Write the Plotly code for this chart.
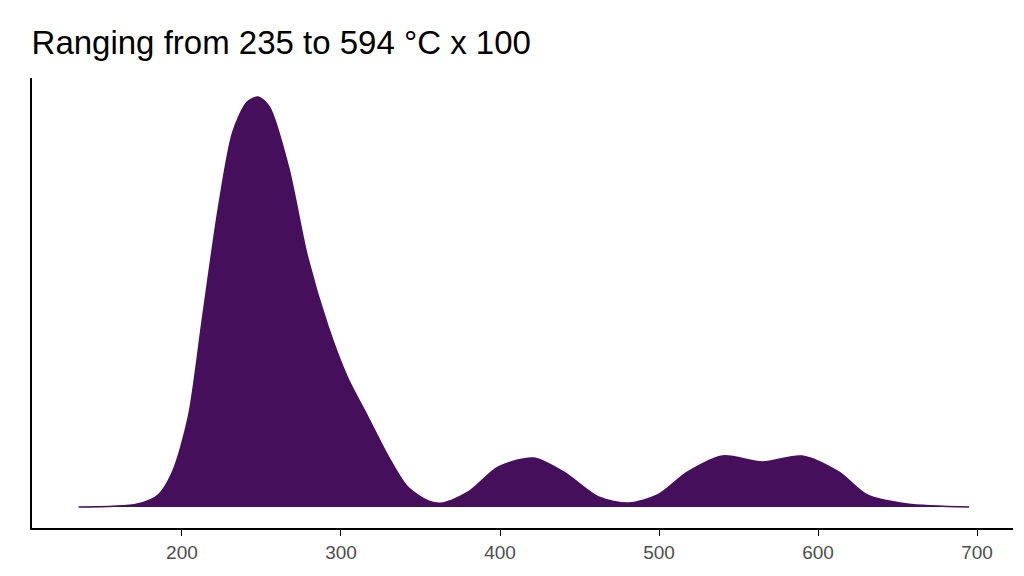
import plotly.graph_objects as go

# density curve (x in units, height in arbitrary density units)
temp = [135, 172, 185, 194, 204, 213, 223, 232, 241, 248, 255, 267, 279, 292, 304,
        317, 330, 342, 355, 364, 380, 399, 421, 440, 462, 481, 499, 518, 540, 565,
        590, 613, 631, 656, 695]
density = [0, 3, 12, 35, 90, 190, 300, 375, 405, 410, 400, 340, 250, 180, 130,
           90, 50, 20, 6, 4, 15, 40, 49, 35, 10, 4, 12, 35, 51, 45,
           51, 35, 12, 3, 0]

fig = go.Figure()
fig.add_trace(go.Scatter(
    x=temp, y=density, mode="lines", fill="tozeroy",
    line=dict(color="#460F5C", width=1.5, shape="spline", smoothing=0.8),
    fillcolor="#460F5C", hoverinfo="skip"))

fig.update_layout(
    width=1024, height=576,
    plot_bgcolor="white", paper_bgcolor="white",
    margin=dict(l=24, r=19, t=70, b=56),
    showlegend=False,
    title=dict(text="Ranging from 235 to 594 °C x 100", x=0.023, xanchor="left",
               y=0.94, yanchor="middle",
               font=dict(family="Liberation Sans, Arial", size=33, color="black")),
    xaxis=dict(range=[105.7, 722.6], tickvals=[200, 300, 400, 500, 600, 700],
               showgrid=False, zeroline=False, showline=True, linecolor="black",
               linewidth=2, ticks="outside", ticklen=6, tickcolor="black",
               tickfont=dict(family="Liberation Sans, Arial", size=19, color="#4D4D4D")),
    yaxis=dict(range=[-21, 429], showticklabels=False, showgrid=False, zeroline=False,
               showline=True, linecolor="black", linewidth=2, ticks=""),
)

fig.write_html("out.html")
